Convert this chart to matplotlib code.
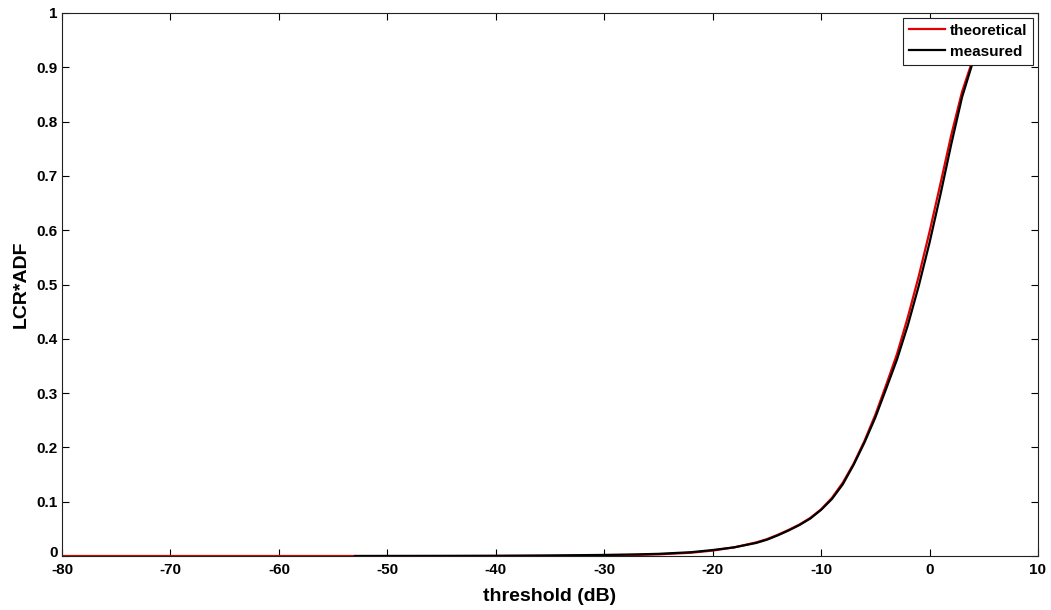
import matplotlib.pyplot as plt
from matplotlib.transforms import ScaledTranslation

# theoretical curve (red)
theo_x = [-80, -60, -53, -45, -40, -35, -30, -27, -25, -22, -20, -18, -16, -15, -14,
          -13, -12, -11, -10, -9, -8, -7, -6, -5, -4, -3, -2, -1, 0, 1, 2, 3, 4, 5]
theo_y = [0.0, 0.0, 0.0, 0.0, 0.0001, 0.0003, 0.001, 0.002, 0.003, 0.006, 0.010,
          0.016, 0.025, 0.031, 0.039, 0.048, 0.058, 0.070, 0.086, 0.107, 0.135,
          0.170, 0.212, 0.260, 0.315, 0.372, 0.440, 0.515, 0.597, 0.685, 0.775,
          0.855, 0.915, 0.955]

# measured curve (black)
meas_x = [-53, -45, -40, -35, -30, -27, -25, -22, -20, -18, -16, -15, -14, -13, -12,
          -11, -10, -9, -8, -7, -6, -5, -4, -3, -2, -1, 0, 1, 2, 3, 4, 5]
meas_y = [0.0, 0.0002, 0.0004, 0.001, 0.002, 0.003, 0.004, 0.007, 0.011, 0.016,
          0.024, 0.030, 0.038, 0.047, 0.057, 0.069, 0.085, 0.105, 0.132, 0.168,
          0.209, 0.255, 0.308, 0.362, 0.425, 0.497, 0.577, 0.665, 0.758, 0.845,
          0.910, 0.953]

x_ticks = list(range(-80, 11, 10))
y_ticks = [i / 10 for i in range(11)]
y_labels = ["0"] + [f"{v:.1f}" for v in y_ticks[1:-1]] + ["1"]

plt.rcParams["font.family"] = ["Liberation Sans", "DejaVu Sans"]
plt.rcParams["font.weight"] = "bold"
plt.rcParams["axes.unicode_minus"] = False

fig = plt.figure(figsize=(10.51, 6.10), dpi=100)
ax = fig.add_axes([0.059, 0.0885, 0.9286, 0.8902])

ax.plot(theo_x, theo_y, color="#e00000", linewidth=1.6, label="theoretical")
ax.plot(meas_x, meas_y, color="black", linewidth=1.6, label="measured")

ax.set_xlim(-80, 10)
ax.set_ylim(0, 1)
ax.set_xticks(x_ticks)
ax.set_yticks(y_ticks)
ax.set_yticklabels(y_labels)
ax.tick_params(direction="in", length=5, width=0.8, top=True, right=True,
               labelsize=11)
ax.tick_params(axis="x", pad=5)
ax.tick_params(axis="y", pad=3)
for lbl in ax.get_xticklabels() + ax.get_yticklabels():
    lbl.set_fontweight("bold")

# nudge the "0" label up a little so it doesn't run into "-80"
zero_lbl = ax.yaxis.get_major_ticks()[0].label1
zero_lbl.set_transform(zero_lbl.get_transform()
                       + ScaledTranslation(0, 3 / 72, fig.dpi_scale_trans))

for sp in ax.spines.values():
    sp.set_linewidth(0.8)
    sp.set_color("#222222")

ax.set_xlabel("threshold (dB)", fontsize=14, fontweight="bold", labelpad=8)
ax.set_ylabel("LCR*ADF", fontsize=14, fontweight="bold", labelpad=5)

leg = ax.legend(loc="upper right", fontsize=11, frameon=True, fancybox=False,
                borderaxespad=0.3, handlelength=2.35, handletextpad=0.3,
                borderpad=0.4, labelspacing=0.45, framealpha=1)
leg.get_frame().set_edgecolor("#222222")
leg.get_frame().set_linewidth(0.8)
for t in leg.get_texts():
    t.set_fontweight("bold")

fig.savefig("out.png", dpi=100)
